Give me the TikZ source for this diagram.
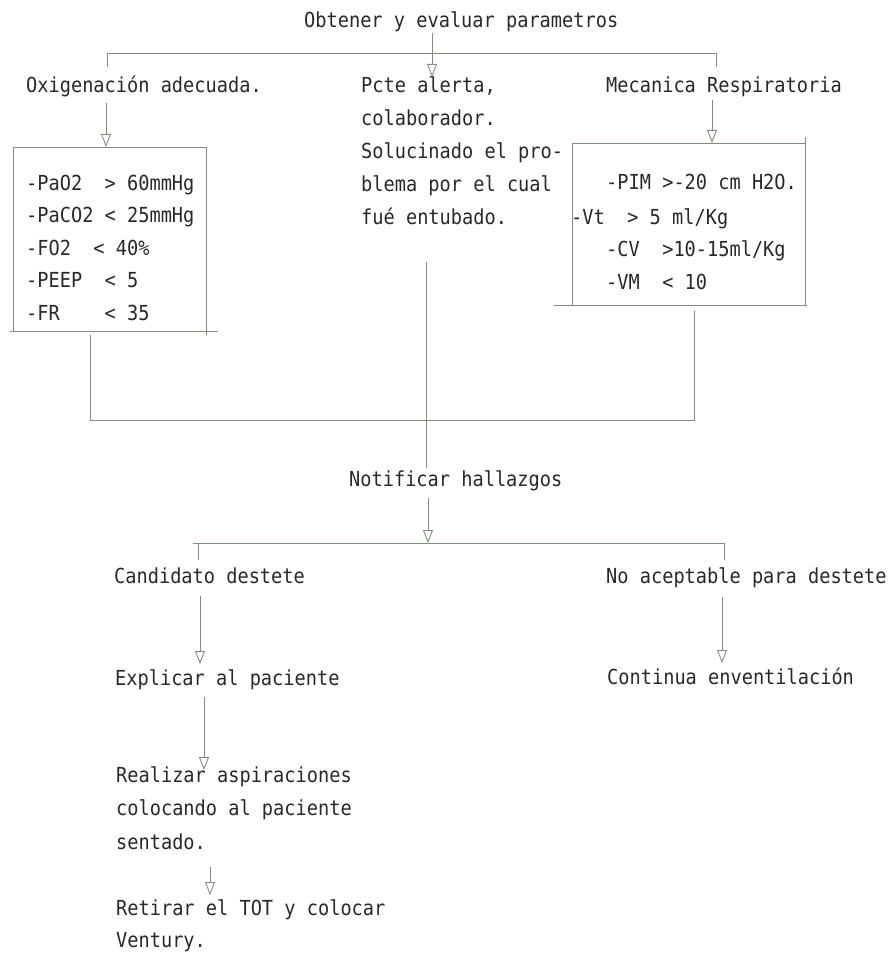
\documentclass[tikz,border=0pt]{standalone}
\usepackage{fontspec}
\usetikzlibrary{arrows.meta}
\newfontfamily\dotmatrix[FakeStretch=0.9]{DejaVu Sans Mono}
\definecolor{ink}{RGB}{38,42,38}
\definecolor{rule}{RGB}{128,142,124}
\begin{document}
\begin{tikzpicture}[x=1pt,y=-1pt,
  txt/.style={anchor=base west,inner sep=0pt,text=ink,align=left,
    font=\dotmatrix\fontsize{20.7}{33}\selectfont},
  wire/.style={draw=rule,line width=0.9pt},
  arr/.style={wire,-{Triangle[open,length=13pt,width=10pt]}},
  frame/.style={draw=rule,line width=0.9pt,inner sep=0pt,anchor=north west}]
\useasboundingbox (0,0) rectangle (888,957);

% ---- texts (multi-line nodes are placed by the baseline of their last line) ----
\node[txt] (title) at (304,28) {Obtener y evaluar parametros};
\node[txt] (oxi) at (26,93) {Oxigenación adecuada.};
\node[txt] (pcte) at (361,225) {Pcte alerta,\\colaborador.\\Solucinado el pro-\\blema por el cual\\fué entubado.};
\node[txt] (meca) at (606,93) {Mecanica Respiratoria};

\node[txt,font=\dotmatrix\fontsize{20.7}{32.5}\selectfont] (oxlist) at (26,320)
  {-PaO2~~> 60mmHg\\-PaCO2 < 25mmHg\\-FO2~~< 40\%\\-PEEP~~< 5\\-FR~~~~< 35};

\node[txt] (pim) at (606,190) {-PIM >-20 cm H2O.};
\node[txt] (vt)  at (571,225) {-Vt~~> 5 ml/Kg};
\node[txt] (cv)  at (606,257) {-CV~~>10-15ml/Kg};
\node[txt] (vm)  at (606,289) {-VM~~< 10};

\node[txt] (notif) at (349,486) {Notificar hallazgos};
\node[txt] (cand)  at (114,583) {Candidato destete};
\node[txt] (noac)  at (606,583) {No aceptable para destete};
\node[txt] (expl)  at (115,685) {Explicar al paciente};
\node[txt] (cont)  at (607,684) {Continua enventilación};
\node[txt,font=\dotmatrix\fontsize{20.7}{33.5}\selectfont] (real) at (116,849)
  {Realizar aspiraciones\\colocando al paciente\\sentado.};
\node[txt,font=\dotmatrix\fontsize{20.7}{32}\selectfont] (retir) at (116,947)
  {Retirar el TOT y colocar\\Ventury.};

% ---- parameter frames ----
\node[frame,minimum width=193pt,minimum height=184pt] (lbox) at (13,147) {};
\node[frame,minimum width=233pt,minimum height=162pt] (rbox) at (572,143) {};
% overshooting strokes of the frames
\draw[wire] (lbox.south west) ++(-3,0) -- ++(208,0);
\draw[wire] (lbox.south east) -- ++(0,3);
\draw[wire] (rbox.south west) ++(-18,0) -- ++(253,0);
\draw[wire] (rbox.north east) -- ++(0,-6);

% ---- junctions ----
\coordinate (bL) at (107,53);
\coordinate (bR) at (716,53);
\coordinate (jL) at (90,420);
\coordinate (jR) at (694,420);
\coordinate (cL) at (193,543);
\coordinate (cR) at (725,543);

% ---- connectors ----
\draw[wire] (bL) -- (bR);
\draw[wire] (bL) -- ++(0,14);
\draw[wire] (bR) -- ++(0,14);
\draw[arr] (432,33) -- (432,77);

\draw[arr] (106,103) -- (lbox.north -| 106,0);
\draw[arr] (712,100) -- (rbox.north -| 712,0);

\draw[wire] (90,335) -- (jL) -- (jR) -- (694,311);
\draw[wire] (426,262) -- (426,468);

\draw[arr] (428,498) -- (428,543);
\draw[wire] (cL) -- (cR);
\draw[wire] (198,543) -- (198,560);
\draw[wire] (724,543) -- (724,560);

\draw[arr] (200,596) -- (200,664);
\draw[arr] (204,697) -- (204,770);
\draw[arr] (210,867) -- (210,895);
\draw[arr] (722,597) -- (722,663);
\end{tikzpicture}
\end{document}
